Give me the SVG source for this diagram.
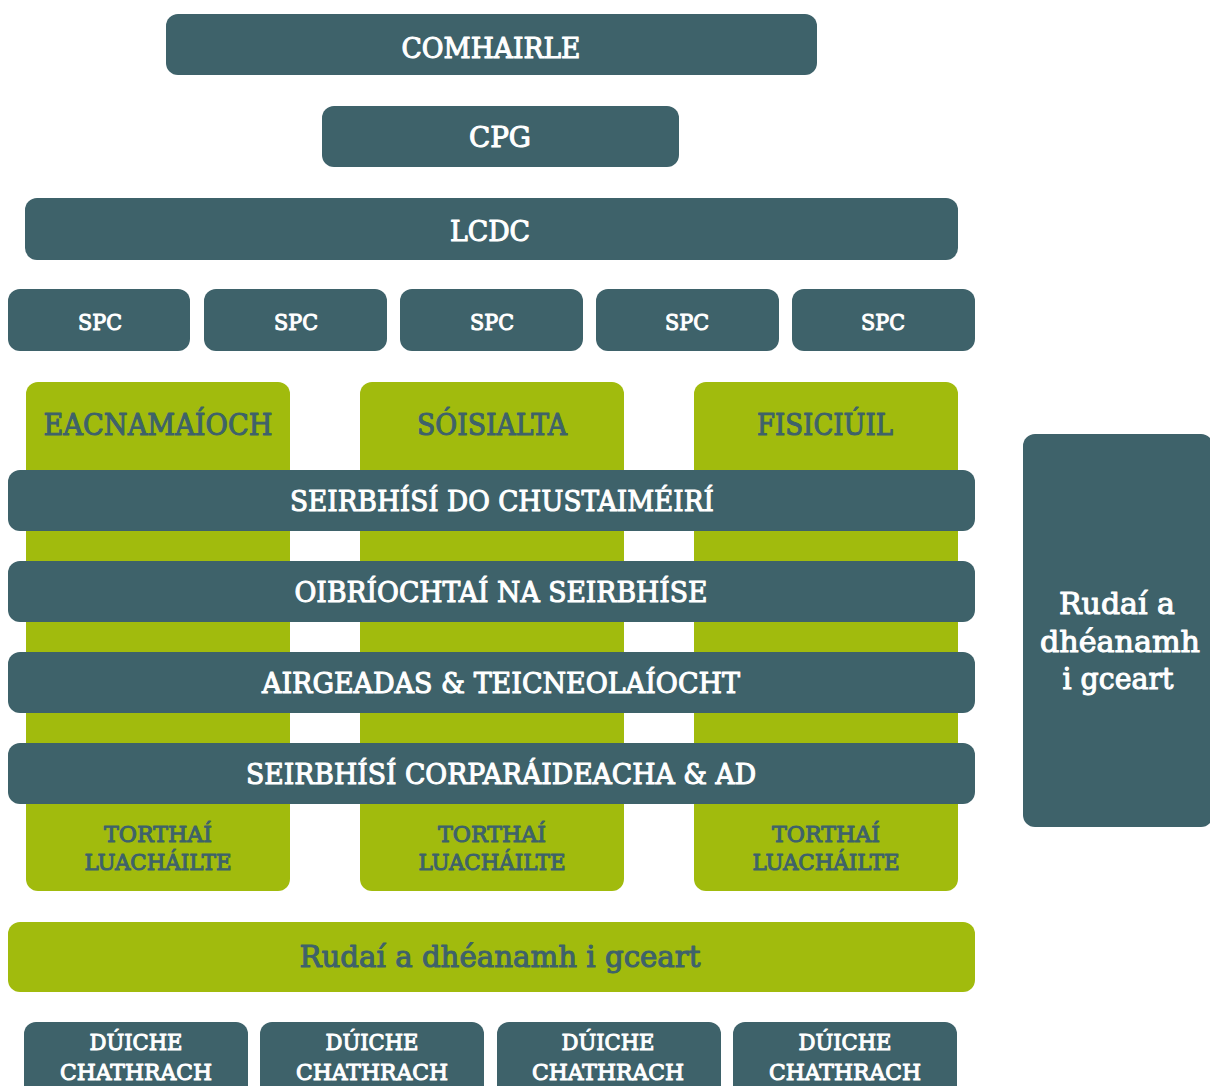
<svg xmlns="http://www.w3.org/2000/svg" width="1210" height="1086" viewBox="0 0 1210 1086">
<style>
.d{fill:#3e626a}
.g{fill:#a1bb0d}
text{font-family:"DejaVu Serif","Liberation Serif",serif;font-weight:normal;text-anchor:middle;stroke-width:1.1px;stroke-linejoin:round}
.w{fill:#ffffff;stroke:#ffffff}
.t{fill:#3e626a;stroke:#3e626a}
.f28{font-size:28px}
.f22{font-size:23px}
.f23{font-size:23px}
.f30{font-size:30px}
</style>
<rect width="1210" height="1086" fill="#ffffff"/>
<g id="comhairle"><rect class="d" x="166" y="14" width="651" height="61" rx="12"/><text class="w f28" x="491" y="58" textLength="179" lengthAdjust="spacingAndGlyphs">COMHAIRLE</text></g>
<g id="cpg"><rect class="d" x="322" y="106" width="357" height="61" rx="12"/><text class="w f28" x="500" y="147" textLength="62" lengthAdjust="spacingAndGlyphs">CPG</text></g>
<g id="lcdc"><rect class="d" x="25" y="198" width="933" height="62" rx="12"/><text class="w f28" x="490" y="241" textLength="80" lengthAdjust="spacingAndGlyphs">LCDC</text></g>
<g id="spc1"><rect class="d" x="8" y="289" width="182" height="62" rx="12"/><text class="w f22" x="100" y="330" textLength="44" lengthAdjust="spacingAndGlyphs">SPC</text></g>
<g id="spc2"><rect class="d" x="204" y="289" width="183" height="62" rx="12"/><text class="w f22" x="296" y="330" textLength="44" lengthAdjust="spacingAndGlyphs">SPC</text></g>
<g id="spc3"><rect class="d" x="400" y="289" width="183" height="62" rx="12"/><text class="w f22" x="492" y="330" textLength="44" lengthAdjust="spacingAndGlyphs">SPC</text></g>
<g id="spc4"><rect class="d" x="596" y="289" width="183" height="62" rx="12"/><text class="w f22" x="687" y="330" textLength="44" lengthAdjust="spacingAndGlyphs">SPC</text></g>
<g id="spc5"><rect class="d" x="792" y="289" width="183" height="62" rx="12"/><text class="w f22" x="883" y="330" textLength="44" lengthAdjust="spacingAndGlyphs">SPC</text></g>
<g id="col1"><rect class="g" x="26" y="382" width="264" height="509" rx="12"/><text class="t f30" x="158" y="435" textLength="229" lengthAdjust="spacingAndGlyphs">EACNAMAÍOCH</text><text class="t f23" x="158" y="842" textLength="108" lengthAdjust="spacingAndGlyphs">TORTHAÍ</text><text class="t f23" x="158" y="870" textLength="147" lengthAdjust="spacingAndGlyphs">LUACHÁILTE</text></g>
<g id="col2"><rect class="g" x="360" y="382" width="264" height="509" rx="12"/><text class="t f30" x="492" y="435" textLength="150" lengthAdjust="spacingAndGlyphs">SÓISIALTA</text><text class="t f23" x="492" y="842" textLength="108" lengthAdjust="spacingAndGlyphs">TORTHAÍ</text><text class="t f23" x="492" y="870" textLength="147" lengthAdjust="spacingAndGlyphs">LUACHÁILTE</text></g>
<g id="col3"><rect class="g" x="694" y="382" width="264" height="509" rx="12"/><text class="t f30" x="825" y="435" textLength="136" lengthAdjust="spacingAndGlyphs">FISICIÚIL</text><text class="t f23" x="826" y="842" textLength="108" lengthAdjust="spacingAndGlyphs">TORTHAÍ</text><text class="t f23" x="826" y="870" textLength="147" lengthAdjust="spacingAndGlyphs">LUACHÁILTE</text></g>
<g id="bar1"><rect class="d" x="8" y="470" width="967" height="61" rx="12"/><text class="w f28" x="502" y="511" textLength="424" lengthAdjust="spacingAndGlyphs">SEIRBHÍSÍ DO CHUSTAIMÉIRÍ</text></g>
<g id="bar2"><rect class="d" x="8" y="561" width="967" height="61" rx="12"/><text class="w f28" x="501" y="602" textLength="413" lengthAdjust="spacingAndGlyphs">OIBRÍOCHTAÍ NA SEIRBHÍSE</text></g>
<g id="bar3"><rect class="d" x="8" y="652" width="967" height="61" rx="12"/><text class="w f28" x="501" y="693" textLength="478" lengthAdjust="spacingAndGlyphs">AIRGEADAS &amp; TEICNEOLAÍOCHT</text></g>
<g id="bar4"><rect class="d" x="8" y="743" width="967" height="61" rx="12"/><text class="w f28" x="501" y="784" textLength="510" lengthAdjust="spacingAndGlyphs">SEIRBHÍSÍ CORPARÁIDEACHA &amp; AD</text></g>
<g id="rudai-bar"><rect class="g" x="8" y="922" width="967" height="70" rx="12"/><text class="t f30" x="500" y="967" textLength="401" lengthAdjust="spacingAndGlyphs">Rudaí a dhéanamh i gceart</text></g>
<g id="rudai-side"><rect class="d" x="1023" y="434" width="190" height="393" rx="12"/><text class="w f30" x="1117" y="614" textLength="116" lengthAdjust="spacingAndGlyphs">Rudaí a</text><text class="w f30" x="1120" y="652" textLength="160" lengthAdjust="spacingAndGlyphs">dhéanamh</text><text class="w f30" x="1118" y="689" textLength="111" lengthAdjust="spacingAndGlyphs">i gceart</text></g>
<g id="duiche1"><rect class="d" x="24" y="1022" width="224" height="80" rx="12"/><text class="w f23" x="136" y="1050" textLength="93" lengthAdjust="spacingAndGlyphs">DÚICHE</text><text class="w f23" x="136" y="1080" textLength="152" lengthAdjust="spacingAndGlyphs">CHATHRACH</text></g>
<g id="duiche2"><rect class="d" x="260" y="1022" width="224" height="80" rx="12"/><text class="w f23" x="372" y="1050" textLength="93" lengthAdjust="spacingAndGlyphs">DÚICHE</text><text class="w f23" x="372" y="1080" textLength="152" lengthAdjust="spacingAndGlyphs">CHATHRACH</text></g>
<g id="duiche3"><rect class="d" x="497" y="1022" width="224" height="80" rx="12"/><text class="w f23" x="608" y="1050" textLength="93" lengthAdjust="spacingAndGlyphs">DÚICHE</text><text class="w f23" x="608" y="1080" textLength="152" lengthAdjust="spacingAndGlyphs">CHATHRACH</text></g>
<g id="duiche4"><rect class="d" x="733" y="1022" width="224" height="80" rx="12"/><text class="w f23" x="845" y="1050" textLength="93" lengthAdjust="spacingAndGlyphs">DÚICHE</text><text class="w f23" x="845" y="1080" textLength="152" lengthAdjust="spacingAndGlyphs">CHATHRACH</text></g>
<g id="connectors"></g>
</svg>
